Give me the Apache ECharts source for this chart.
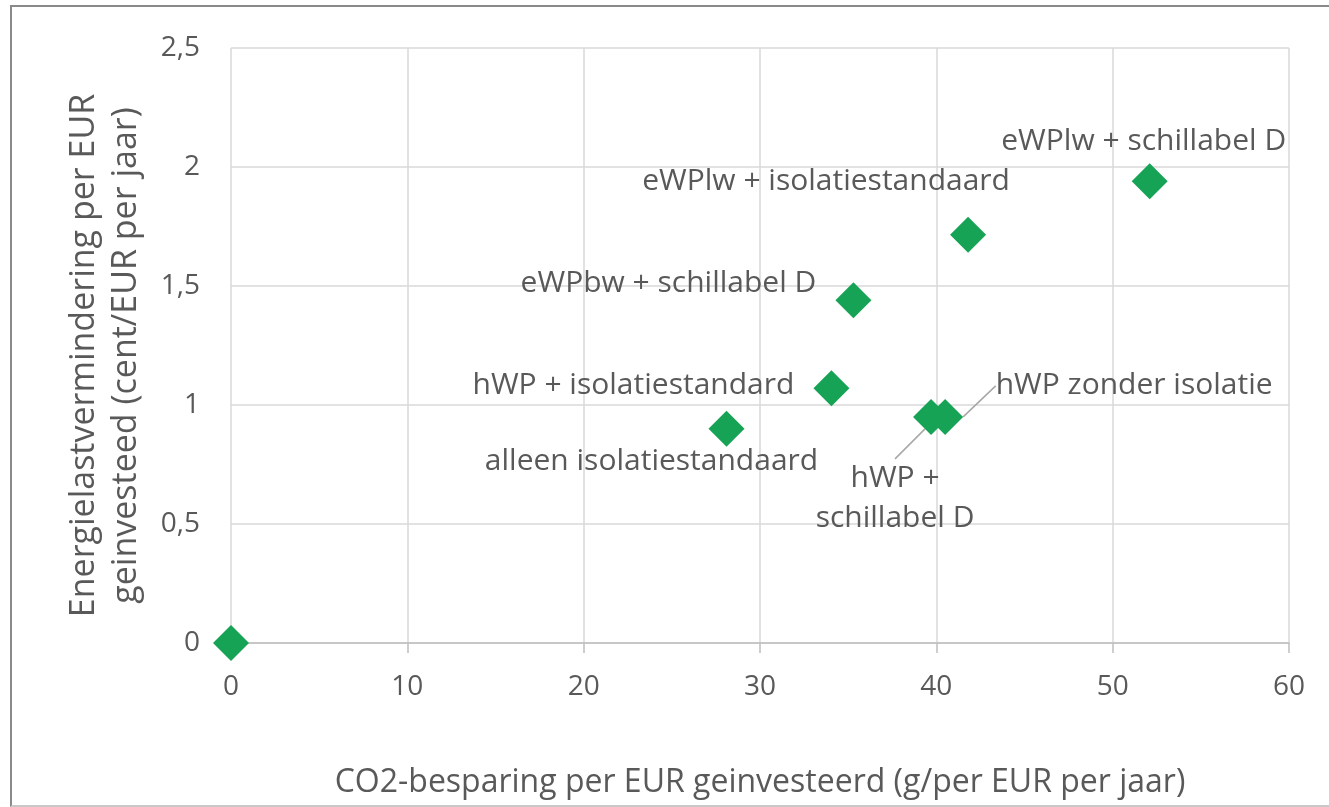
<!DOCTYPE html>
<html>
<head>
<meta charset="utf-8">
<script src="https://cdn.jsdelivr.net/npm/echarts@6/dist/echarts.min.js"></script>
<style>
  html, body { margin: 0; padding: 0; background: #fff; }
  #frame { position: absolute; left: 10px; top: 5px; width: 1340px; height: 802px; border: 2px solid #8a8a8a; border-right: none; border-bottom-color: #c8c8c8; box-sizing: border-box; }
  #chart { position: absolute; left: 0; top: 0; width: 1329px; height: 807px; }
</style>
</head>
<body>
<div id="frame"></div>
<div id="chart"></div>
<script>
// ---- data ----
const names = [
  "",
  "alleen isolatiestandaard",
  "hWP + isolatiestandard",
  "eWPbw + schillabel D",
  "eWPlw + isolatiestandaard",
  "eWPlw + schillabel D",
  "hWP +\nschillabel D",
  "hWP zonder isolatie"
];
const co2Savings = [0, 28.1, 34.05, 35.3, 41.8, 52.1, 39.7, 40.5];
const energyReduction = [0, 0.9, 1.07, 1.44, 1.715, 1.94, 0.95, 0.95];
const xTicks = [0, 10, 20, 30, 40, 50, 60];
const yTicks = ["0", "0,5", "1", "1,5", "2", "2,5"];
const xTitle = "CO2-besparing per EUR geinvesteerd (g/per EUR per jaar)";
const yTitle = "Energielastvermindering per EUR\ngeinvesteed (cent/EUR per jaar)";

// ---- layout (label placement only) ----
const labelOffsets = {1: [-75, 33], 2: [-198, -3], 3: [-185, -17], 4: [-142, -53], 5: [-6, -40]};
const leaderOffsets = {6: [-36, 82], 7: [189, -31]};

const FONT = "'Open Sans', 'Noto Sans', sans-serif";
const TXT = "#595959";
const GREEN = "#17A355";

const plain = [], leader = [];
co2Savings.forEach((x, i) => {
  const item = { value: [x, energyReduction[i]], name: names[i] };
  if (leaderOffsets[i]) { item.idx = i; leader.push(item); }
  else {
    item.label = labelOffsets[i] ? { show: true, offset: labelOffsets[i] } : { show: false };
    plain.push(item);
  }
});
const leaderKeys = leader.map(d => d.idx);

const chart = echarts.init(document.getElementById('chart'), null, { renderer: 'canvas' });
const labelStyle = {
  show: true, position: 'inside', formatter: p => p.name,
  color: TXT, fontFamily: FONT, fontSize: 30, lineHeight: 40, align: 'center'
};
chart.setOption({
  animation: false,
  backgroundColor: 'transparent',
  grid: { left: 231, right: 40, top: 48, bottom: 164 },
  xAxis: {
    type: 'value', min: 0, max: 60, interval: 10,
    axisLine: { show: true, onZero: false, lineStyle: { color: '#bfbfbf', width: 1.5 } },
    axisTick: { show: true, length: 10, lineStyle: { color: '#bfbfbf', width: 1.5 } },
    axisLabel: { color: TXT, fontFamily: FONT, fontSize: 28, margin: 30,
      formatter: v => xTicks.includes(v) ? String(v) : '' },
    splitLine: { show: true, lineStyle: { color: '#d9d9d9', width: 1.5 } },
    name: xTitle, nameLocation: 'middle', nameGap: 124,
    nameTextStyle: { color: TXT, fontFamily: FONT, fontSize: 32 }
  },
  yAxis: {
    type: 'value', min: 0, max: 2.5, interval: 0.5,
    axisLine: { show: false },
    axisTick: { show: false },
    axisLabel: { color: TXT, fontFamily: FONT, fontSize: 28, margin: 31,
      formatter: v => yTicks[Math.round(v / 0.5)] },
    splitLine: { show: true, lineStyle: { color: '#d9d9d9', width: 1.5 } },
    name: yTitle, nameLocation: 'middle', nameGap: 84,
    nameTextStyle: { color: TXT, fontFamily: FONT, fontSize: 34, lineHeight: 42, align: 'center',
      padding: [0, 20, 0, 0] }
  },
  series: [
    {
      type: 'scatter', symbol: 'diamond', symbolSize: [36, 36],
      itemStyle: { color: GREEN, opacity: 1 },
      label: labelStyle,
      data: plain,
      z: 3
    },
    {
      type: 'scatter', symbol: 'diamond', symbolSize: [36, 36],
      itemStyle: { color: GREEN, opacity: 1 },
      label: labelStyle,
      labelLine: { show: true, lineStyle: { color: '#a6a6a6', width: 1.5 } },
      labelLayout: p => {
        const o = leaderOffsets[leaderKeys[p.dataIndex]];
        return { dx: o[0], dy: o[1] };
      },
      data: leader,
      z: 3
    }
  ]
});
</script>
</body>
</html>
